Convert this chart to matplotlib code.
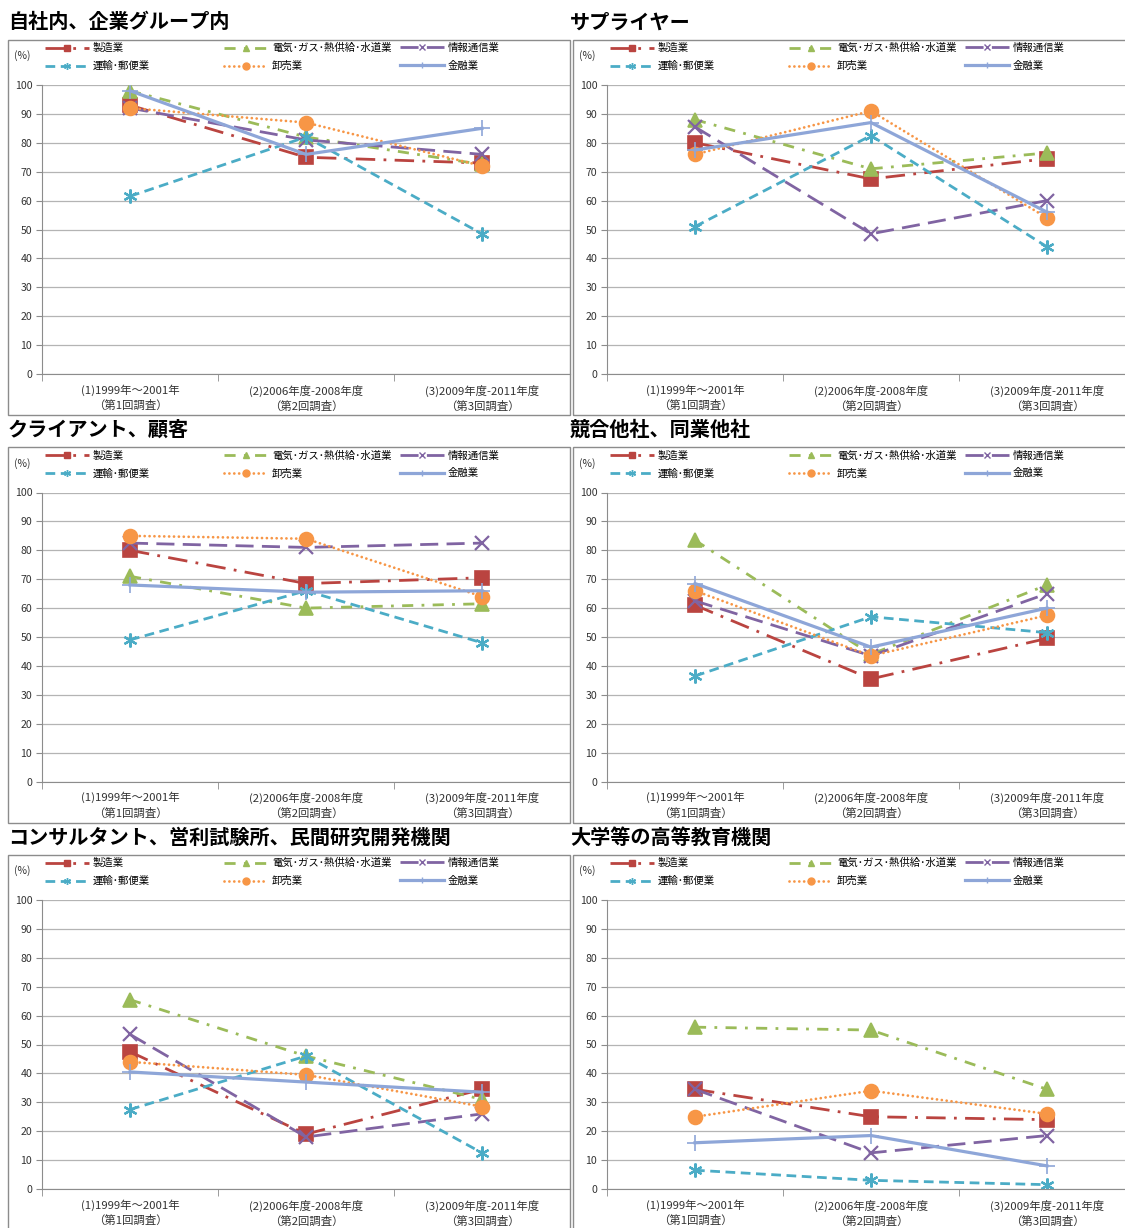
import matplotlib
matplotlib.use("Agg")
import matplotlib.pyplot as plt
from matplotlib.patches import Rectangle
from matplotlib.lines import Line2D

plt.rcParams['font.family'] = ['Noto Sans CJK JP', 'DejaVu Sans']

# Data
categories = ['(1)1999年～2001年\n（第1回調査）',
              '(2)2006年度-2008年度\n（第2回調査）',
              '(3)2009年度-2011年度\n（第3回調査）']
series = ['製造業', '電気･ガス･熱供給･水道業', '情報通信業', '運輸･郵便業', '卸売業', '金融業']
titles = ['自社内、企業グループ内', 'サプライヤー', 'クライアント、顧客',
          '競合他社、同業他社', 'コンサルタント、営利試験所、民間研究開発機関', '大学等の高等教育機関']

# order in each list: 製造, 電気, 情報通信, 運輸, 卸売, 金融
vals_jisha = [[93, 75, 73], [98, 82, 72.5], [92, 81, 76],
              [61.5, 82, 48.5], [92, 87, 72], [98, 76, 85]]
vals_supplier = [[80, 67.5, 74.5], [88, 71, 76.5], [85.5, 48.5, 60],
                 [51, 82.5, 44], [76, 91, 54], [77.5, 87, 56]]
vals_client = [[80, 68.5, 70.5], [71, 60, 61.5], [82.5, 81, 82.5],
               [49, 66, 48], [85, 84, 64], [68, 65.5, 66]]
vals_kyogo = [[61, 35.5, 49.5], [83.5, 44, 68], [62.5, 43.5, 65],
              [36.5, 57, 51.5], [66, 43.5, 57.5], [68.5, 46.5, 60]]
vals_consul = [[47.5, 19, 34.5], [65.5, 46, 31], [53.5, 18, 26],
               [27.5, 46, 12.5], [44, 39.5, 28.5], [40.5, 37, 33.5]]
vals_daigaku = [[34.5, 25, 24], [56, 55, 34.5], [34.5, 12.5, 18.5],
                [6.5, 3, 1.5], [25, 34, 26], [16, 18.5, 8]]
panels = [vals_jisha, vals_supplier, vals_client, vals_kyogo, vals_consul, vals_daigaku]

# styles per series
colors = ['#BA4440', '#9BBB59', '#8064A2', '#4BACC6', '#F79646', '#8EA6D8']
dashes = [(7, 3, 1, 3), (4, 3, 1, 3), (6.5, 3), (3.5, 2), (0.01, 1.75), None]
markers = ['s', '^', 'x', (6, 2, 0), 'o', '+']
msizes = [10, 10, 10, 10, 10, 12]
lws = [2, 2, 2, 2, 2, 2.3]

W, H = 1125, 1228
fig = plt.figure(figsize=(W / 100, H / 100), dpi=100)


def fx(p):
    return p / W


def fy(p):
    return 1 - p / H


grey = '#8C8C8C'
for i, vals in enumerate(panels):
    col, row = i % 2, i // 2
    dx = col * 565
    dy = row * 407.5

    # panel frame
    fig.add_artist(Rectangle((fx(8 + dx), fy(415 + dy)), 562 / W, 375 / H,
                             transform=fig.transFigure, fill=False,
                             edgecolor=grey, lw=1))
    fig.text(fx(8 + dx - (3 if col else 0)), fy(22 + dy), titles[i], fontsize=14.5,
             fontweight='bold', ha='left', va='center')
    fig.text(fx(22 + dx), fy(56 + dy), '(%)', fontsize=7.5, ha='center', va='center',
             color='#333333')

    left, right, top, bottom = 42 + dx, 570 + dx, 85 + dy, 374 + dy
    ax = fig.add_axes([fx(left), fy(bottom), (right - left) / W, (bottom - top) / H])
    x = range(len(categories))
    for s in range(len(series)):
        line, = ax.plot(x, vals[s], color=colors[s], lw=lws[s], marker=markers[s],
                        markersize=msizes[s], markeredgewidth=1.6 if s in (2, 3) else 1.2,
                        markerfacecolor=colors[s], markeredgecolor=colors[s])
        if dashes[s] is not None:
            line.set_dashes(dashes[s])
        if s == 4:
            line.set_dash_capstyle('round')

    ax.set_xlim(-0.5, 2.5)
    ax.set_ylim(0, 100)
    ax.set_yticks(range(0, 101, 10))
    ax.set_xticks(list(x))
    ax.set_xticklabels(categories, fontsize=8.2, linespacing=1.45, color='#333333')
    ax.set_xticks([-0.5, 0.5, 1.5, 2.5], minor=True)
    ax.tick_params(axis='x', which='major', length=0, pad=7.5)
    ax.tick_params(axis='x', which='minor', length=5, color=grey, direction='out')
    ax.tick_params(axis='y', length=4, color=grey, labelsize=7.6, pad=3,
                   labelcolor='#333333')
    ax.yaxis.grid(True, color='#B4B4B4', lw=0.9)
    ax.set_axisbelow(True)
    for sp in ['top', 'right']:
        ax.spines[sp].set_visible(False)
    ax.spines['left'].set_color(grey)
    ax.spines['bottom'].set_color(grey)

    # legend: three columns, two rows
    handles = []
    for s in range(len(series)):
        h = Line2D([0], [0], color=colors[s], lw=lws[s], marker=markers[s],
                   markersize=5, markeredgewidth=1, markerfacecolor=colors[s],
                   markeredgecolor=colors[s])
        if dashes[s] is not None:
            h.set_dashes(dashes[s])
        if s == 4:
            h.set_dash_capstyle('round')
        handles.append(h)
    col_x = [45, 224, 400]
    pairs = [(0, 3), (1, 4), (2, 5)]
    for cx, (a, b) in zip(col_x, pairs):
        fig.legend([handles[a], handles[b]], [series[a], series[b]],
                   loc='upper left', bbox_to_anchor=(fx(cx + dx), fy(43 + dy)),
                   bbox_transform=fig.transFigure, frameon=False, fontsize=7.5,
                   borderpad=0, borderaxespad=0, handlelength=4.2,
                   handletextpad=0.4, labelspacing=0.75, numpoints=1)

fig.savefig('out.png', dpi=100)
